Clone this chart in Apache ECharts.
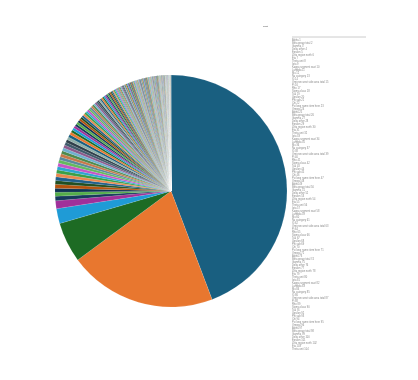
<!DOCTYPE html>
<html><head><meta charset="utf-8">
<script src="https://cdn.jsdelivr.net/npm/echarts@6/dist/echarts.min.js"></script>
<style>html,body{margin:0;padding:0;background:#fff}#c{width:418px;height:380px}</style>
</head><body><div id="c"></div>
<script>
var titleText = 'Chart';
var bigValues = [403, 188, 51, 19, 10];
var midValues = [5.6,5.2,5.0,4.9,4.8,4.6,4.5,4.4,4.3,4.2,4.2,4.1,4.0,4.0,3.9,3.8,3.8,3.7,3.6,3.5,3.4];
var smallValues = [3.2,3.1,3.0,2.9,2.9,2.8,2.7,2.7,2.6,2.5,2.5,2.4,2.4,2.3,2.3,2.2,2.2,2.1,2.1,2.0,2.0,2.0,1.9,1.9,1.8,1.8,1.8,1.7,1.7,1.7,1.6,1.6,1.5,1.5,1.5,1.4,1.4,1.3];
var tinyValues = [1.3,1.3,1.2,1.2,1.2,1.2,1.1,1.1,1.1,1.1,
1.1,1.0,1.0,1.0,1.0,1.0,1.0,0.9,0.9,0.9,
0.9,0.9,0.9,0.9,0.9,0.8,0.8,0.8,0.8,0.8,
0.8,0.8,0.8,0.8,0.8,0.7,0.7,0.7,0.7,0.7,
0.7,0.7,0.7,0.7,0.7,0.7,0.6,0.6,0.6,0.6,
0.6,0.6,0.6,0.6,0.6,0.6,0.6,0.5,0.5,0.5,
0.5,0.5,0.5,0.5,0.5,0.5,0.5,0.5,0.4,0.4,
0.4,0.4,0.4,0.4,0.4,0.4,0.4,0.4,0.4,0.3,
0.3,0.3,0.3,0.3,0.3,0.3,0.3,0.3,0.3,0.3,
0.3,0.3,0.2,0.2,0.2,0.2,0.2,0.2,0.2,0.2,
0.2,0.2,0.2,0.2,0.2,0.2,0.2,0.2,0.2,0.2,
0.15,0.15,0.15,0.15,0.15,0.15,0.15,0.15,0.15,0.15,
0.15,0.15,0.15,0.15,0.15,0.1,0.1,0.1,0.1,0.1,
0.1,0.1,0.1,0.1,0.1,0.1,0.1,0.1,0.1,0.1];
var nameWords = ['Alpha','Beta group total','Gamma','Delta other','Epsilon','Zeta region north','Eta','Theta unit','Iota','Kappa segment east','Lambda','Mu','Nu category','Xi','Omicron west side area total','Pi','Rho','Sigma class','Tau','Upsilon','Phi sub','Chi','Psi long name item here','Omega'];
var palette = ['#195f80','#e8772f','#1d6b24','#1f9bd6','#a0309a','#163a5c','#54ad4a','#0f3453','#b4520d','#224f22','#205f8c','#e8894f','#3a9f47','#2ea5d1','#c455c6','#63b95e','#5b8a9c','#c7784a','#4f8a4c','#6fb0cf','#8c5a8c','#3f5a6b','#2f3f4a','#8fb0a8'];

var allValues = bigValues.concat(midValues, smallValues, tinyValues);
var names = allValues.map(function(v, i){ return nameWords[i % nameWords.length] + ' ' + (i + 1); });
var data = allValues.map(function(v, i){ return {name: names[i], value: v}; });

var chart = echarts.init(document.getElementById('c'));
chart.setOption({
  color: palette,
  animation: false,
  title: {text: titleText, left: 263, top: 25, padding: 0, textStyle: {fontSize: 2, color: '#444', fontWeight: 'normal'}},
  legend: {
    orient: 'vertical', left: 287, top: 39, itemGap: 0, padding: 0,
    itemWidth: 0, itemHeight: 1, icon: 'none',
    data: names.slice(0, 104),
    textStyle: {fontSize: 2.6, color: '#888', padding: 0, lineHeight: 3}
  },
  graphic: [{type: 'line', shape: {x1: 292, y1: 37, x2: 366, y2: 37}, style: {stroke: '#ccc', lineWidth: 1}}],
  series: [{
    type: 'pie', center: [171, 191], radius: 116, startAngle: 90, clockwise: true,
    label: {show: false}, labelLine: {show: false},
    itemStyle: {borderColor: '#fff', borderWidth: 0.1},
    data: data
  }]
});
</script></body></html>
